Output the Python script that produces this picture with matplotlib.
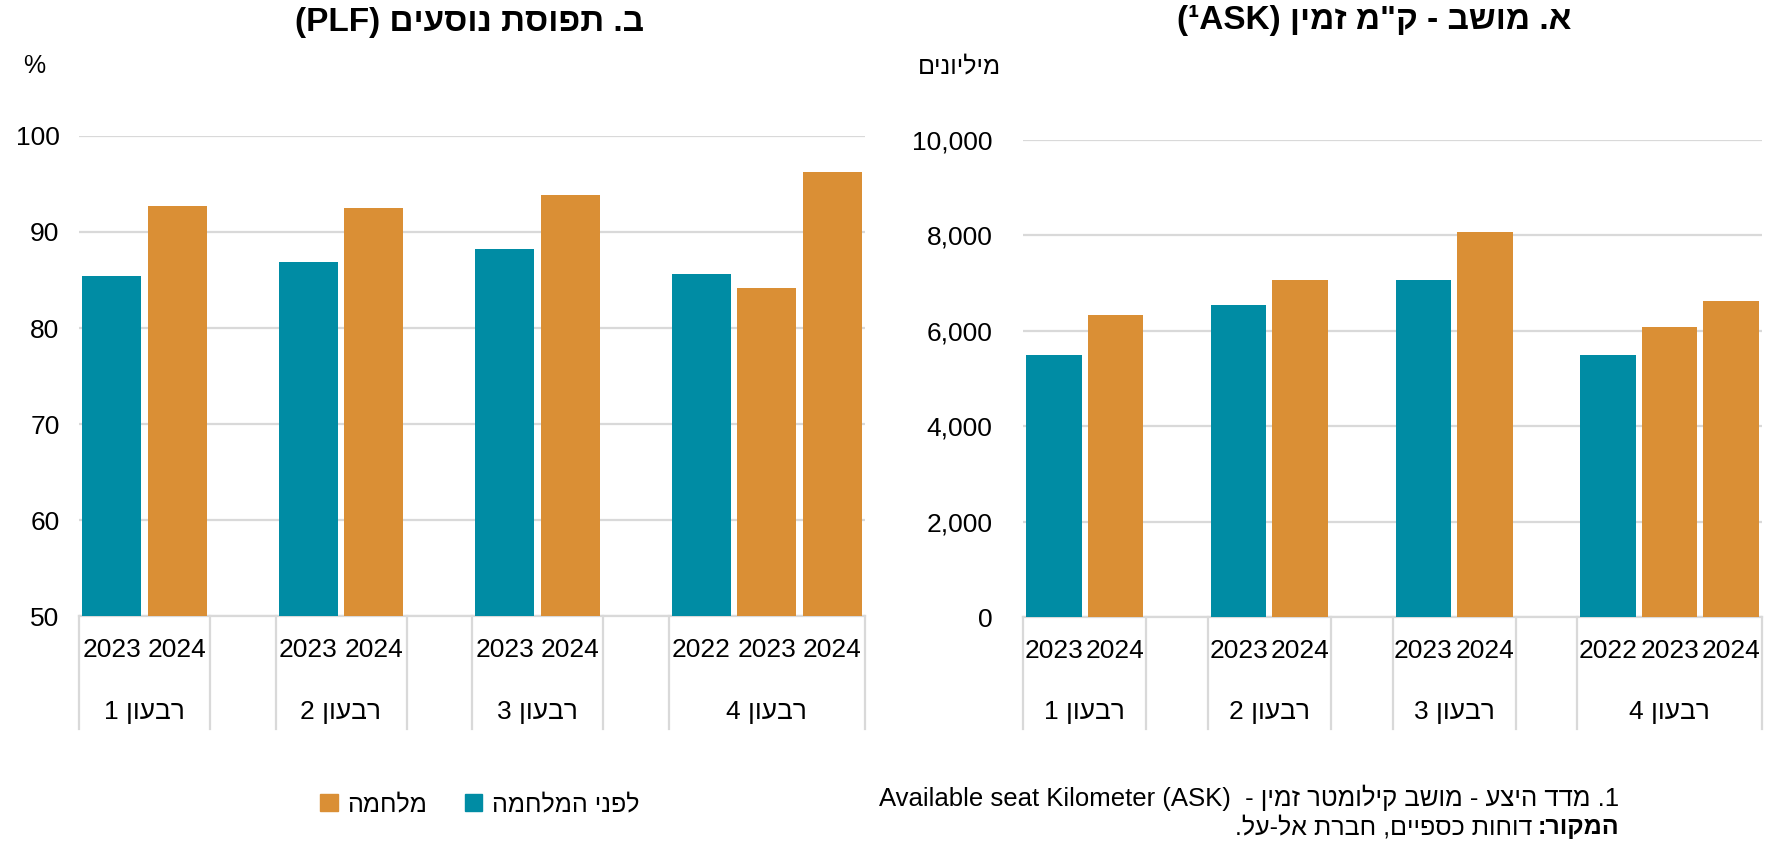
import numpy as np
import matplotlib
matplotlib.use("Agg")
import matplotlib.pyplot as plt
from matplotlib.transforms import blended_transform_factory
from matplotlib.patches import Patch

plt.rcParams['font.family'] = ['Liberation Sans', 'DejaVu Sans']

nan = np.nan

# קטגוריות ציר X (שנה בתוך רבעון, משבצת ריקה בין רבעונים)
years = ['2023', '2024', '', '2023', '2024', '', '2023', '2024', '', '2022', '2023', '2024']
# תוויות רבעונים (סדר תצוגה חזותי, משמאל לימין)
quarters = ['1 ןועבר', '2 ןועבר', '3 ןועבר', '4 ןועבר']
quarter_slots = [(0, 1), (3, 4), (6, 7), (9, 11)]

# ב. תפוסת נוסעים (PLF), אחוזים
plf_before = [85.4, nan, nan, 86.9, nan, nan, 88.2, nan, nan, 85.6, nan, nan]
plf_war = [nan, 92.7, nan, nan, 92.5, nan, nan, 93.9, nan, nan, 84.2, 96.3]

# א. מושב-ק"מ זמין (ASK), מיליונים
ask_before = [5500, nan, nan, 6540, nan, nan, 7060, nan, nan, 5500, nan, nan]
ask_war = [nan, 6330, nan, nan, 7060, nan, nan, 8080, nan, nan, 6070, 6630]

TEAL = '#008ca4'
ORANGE = '#da8f35'
GRID = '#d9d9d9'

W, H = 1773, 846
fig = plt.figure(figsize=(W / 100, H / 100), dpi=100)


def px(x0, y_top, x1, y_bot):
    return [x0 / W, 1 - y_bot / H, (x1 - x0) / W, (y_bot - y_top) / H]


def pinta(ax, before, war, ylim, step, fmt, pad):
    x = np.arange(len(years))
    ax.bar(x, before, width=0.9, color=TEAL, zorder=3)
    ax.bar(x, war, width=0.9, color=ORANGE, zorder=3)
    ax.set_xlim(-0.5, len(years) - 0.5)
    ax.set_ylim(*ylim)
    ax.set_yticks(np.arange(ylim[0], ylim[1] + step / 2, step))
    ax.set_yticklabels([fmt(v) for v in ax.get_yticks()])
    ax.grid(axis='y', color=GRID, linewidth=1.6, zorder=0)
    for s in ['top', 'right', 'left']:
        ax.spines[s].set_visible(False)
    ax.spines['bottom'].set_color(GRID)
    ax.spines['bottom'].set_linewidth(1.6)
    ax.set_xticks(x)
    ax.set_xticklabels(years)
    ax.tick_params(axis='x', length=0, pad=16, labelsize=19)
    ax.tick_params(axis='y', length=0, pad=pad, labelsize=19)

    # líneas separadoras de grupos bajo el eje
    tr = blended_transform_factory(ax.transData, ax.transAxes)
    for b in [-0.5, 1.5, 2.5, 4.5, 5.5, 7.5, 8.5, len(years) - 0.5]:
        ax.plot([b, b], [0, -0.235], transform=tr, color=GRID, linewidth=1.6, clip_on=False)
    for lbl, (a, c) in zip(quarters, quarter_slots):
        ax.text((a + c) / 2, -0.2, lbl, transform=tr, ha='center', va='center', fontsize=19)


# ב. תפוסת נוסעים (שמאל)
ax1 = fig.add_axes(px(79, 136, 865, 616))
pinta(ax1, plf_before, plf_war, (50, 100), 10, lambda v: f'{v:.0f}', 14)
fig.text(469 / W, 1 - 23 / H, '(PLF) םיעסונ תסופת .ב', ha='center', va='center',
         fontsize=24, fontweight='bold')
fig.text(34 / W, 1 - 66 / H, '%', ha='center', va='center', fontsize=18)

# א. מושב-ק"מ זמין (ימין)
ax2 = fig.add_axes(px(1023, 140, 1762, 617))
pinta(ax2, ask_before, ask_war, (0, 10000), 2000, lambda v: f'{v:,.0f}', 22)
fig.text(1374 / W, 1 - 20 / H, '(¹ASK) ןימז מ"ק - בשומ .א', ha='center', va='center',
         fontsize=24, fontweight='bold')
fig.text(959 / W, 1 - 66 / H, 'םינוילימ', ha='center', va='center', fontsize=18)

# מקרא
handles = [Patch(color=ORANGE, label='המחלמ'), Patch(color=TEAL, label='המחלמה ינפל')]
fig.legend(handles=handles, ncol=2, loc='center', bbox_to_anchor=(480 / W, 1 - 804 / H),
           frameon=False, fontsize=18, handlelength=0.7, handleheight=0.7,
           handletextpad=0.4, columnspacing=1.5)

# הערות שוליים
x_right = 1619 / W
fig.text(x_right, 1 - 798 / H, 'Available seat Kilometer (ASK)  - ןימז רטמוליק בשומ - עציה דדמ .1',
         ha='right', va='center', fontsize=18.5)
t_bold = fig.text(x_right, 1 - 827 / H, ':רוקמה', ha='right', va='center',
                  fontsize=18, fontweight='bold')
fig.canvas.draw()
bb = t_bold.get_window_extent(fig.canvas.get_renderer())
fig.text(bb.x0 / W - 5 / W, 1 - 827 / H, '.לע-לא תרבח ,םייפסכ תוחוד', ha='right', va='center',
         fontsize=18)

fig.savefig('out.png', dpi=100)
